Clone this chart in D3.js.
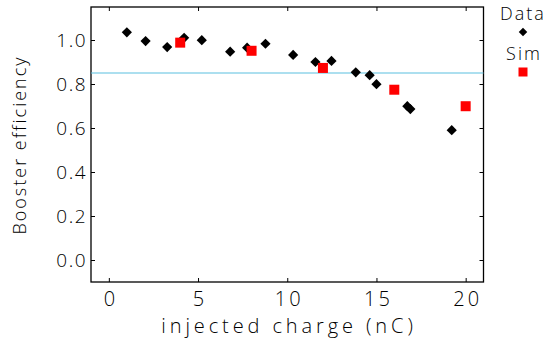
<!DOCTYPE html>
<html><head><meta charset="utf-8">
<script src="https://cdn.jsdelivr.net/npm/d3@7/dist/d3.min.js"></script>
<style>body{margin:0;background:#fff;}svg text{font-family:"Open Sans","DejaVu Sans",sans-serif;font-weight:300;fill:#000;}</style>
</head><body>
<svg id="c" width="548" height="342"></svg>
<script>
const dataX = [1.01, 2.06, 3.27, 4.22, 5.21, 6.80, 7.75, 8.78, 10.33, 11.58, 12.48, 13.84, 14.62, 15.0, 16.73, 16.90, 19.22];
const dataY = [1.035, 0.995, 0.968, 1.010, 0.999, 0.947, 0.965, 0.983, 0.932, 0.900, 0.905, 0.853, 0.840, 0.799, 0.699, 0.686, 0.590];
const simX = [4, 8, 12, 16, 20];
const simY = [0.988, 0.951, 0.873, 0.774, 0.699];
const xTicks = [0, 5, 10, 15, 20];
const yTicks = [0.0, 0.2, 0.4, 0.6, 0.8, 1.0];
const refLine = 0.85;

const svg = d3.select("#c");
const L = 91, R = 483.5, T = 7, B = 282;
const x = d3.scaleLinear().domain([-1, 21]).range([L, R]);
const y = d3.scaleLinear().domain([-0.1, 1.15]).range([B, T]);

const tl = 4;
const g = svg.append("g");
g.append("g").attr("transform", `translate(0,${B})`)
  .call(d3.axisBottom(x).tickValues(xTicks).tickSize(-tl).tickPadding(8).tickFormat(d3.format("d")))
  .call(a => { a.select(".domain").remove(); a.selectAll("text").attr("font-size", 20).attr("dy", "0.8em").style("letter-spacing","3px").attr("dx","1.5px"); });
g.append("g").attr("transform", `translate(0,${T})`)
  .call(d3.axisTop(x).tickValues(xTicks).tickSize(-tl).tickFormat(""))
  .call(a => a.select(".domain").remove());
g.append("g").attr("transform", `translate(${L},0)`)
  .call(d3.axisLeft(y).tickValues(yTicks).tickSize(-tl).tickPadding(4).tickFormat(d3.format(".1f")))
  .call(a => { a.select(".domain").remove(); a.selectAll("text").attr("font-size", 19).style("letter-spacing","1.5px"); });
g.append("g").attr("transform", `translate(${R},0)`)
  .call(d3.axisRight(y).tickValues(yTicks).tickSize(-tl).tickFormat(""))
  .call(a => a.select(".domain").remove());
g.selectAll(".tick line").attr("stroke", "#000").attr("stroke-width", 1);

svg.append("rect").attr("x", L).attr("y", T).attr("width", R - L).attr("height", B - T)
  .attr("fill", "none").attr("stroke", "#000").attr("stroke-width", 1.3);

svg.append("line").attr("x1", L).attr("x2", R).attr("y1", y(refLine)).attr("y2", y(refLine))
  .attr("stroke", "#5bbfe0").attr("stroke-width", 1.2);

const diamond = d3.symbol().type(d3.symbolSquare).size(52);
const dataPts = dataX.map((v, i) => [v, dataY[i]]);
svg.append("g").selectAll("path").data(dataPts).join("path")
  .attr("d", diamond)
  .attr("transform", d => `translate(${x(d[0])},${y(d[1])}) rotate(45)`)
  .attr("fill", "#000");

const simPts = simX.map((v, i) => [v, simY[i]]);
const sq = 10;
svg.append("g").selectAll("rect").data(simPts).join("rect")
  .attr("x", d => x(d[0]) - sq / 2).attr("y", d => y(d[1]) - sq / 2)
  .attr("width", sq).attr("height", sq).attr("fill", "#ff0000");

svg.append("text").attr("x", 289).attr("y", 333).attr("text-anchor", "middle")
  .attr("font-size", 20).style("letter-spacing", "3.9px").text("injected charge (nC)");
svg.append("text").attr("transform", `translate(26,145) rotate(-90)`).attr("text-anchor", "middle")
  .attr("font-size", 18).style("letter-spacing", "2px").text("Booster efficiency");

svg.append("text").attr("x", 523).attr("y", 20).attr("text-anchor", "middle").attr("font-size", 18).style("letter-spacing","2px").text("Data");
svg.append("path").attr("d", d3.symbol().type(d3.symbolSquare).size(36)).attr("transform", "translate(523,32) rotate(45)").attr("fill", "#000");
svg.append("text").attr("x", 524).attr("y", 60).attr("text-anchor", "middle").attr("font-size", 18).style("letter-spacing","2px").text("Sim");
svg.append("rect").attr("x", 523 - 4.5).attr("y", 72 - 4.5).attr("width", 9).attr("height", 9).attr("fill", "#ff0000");
</script>
</body></html>
